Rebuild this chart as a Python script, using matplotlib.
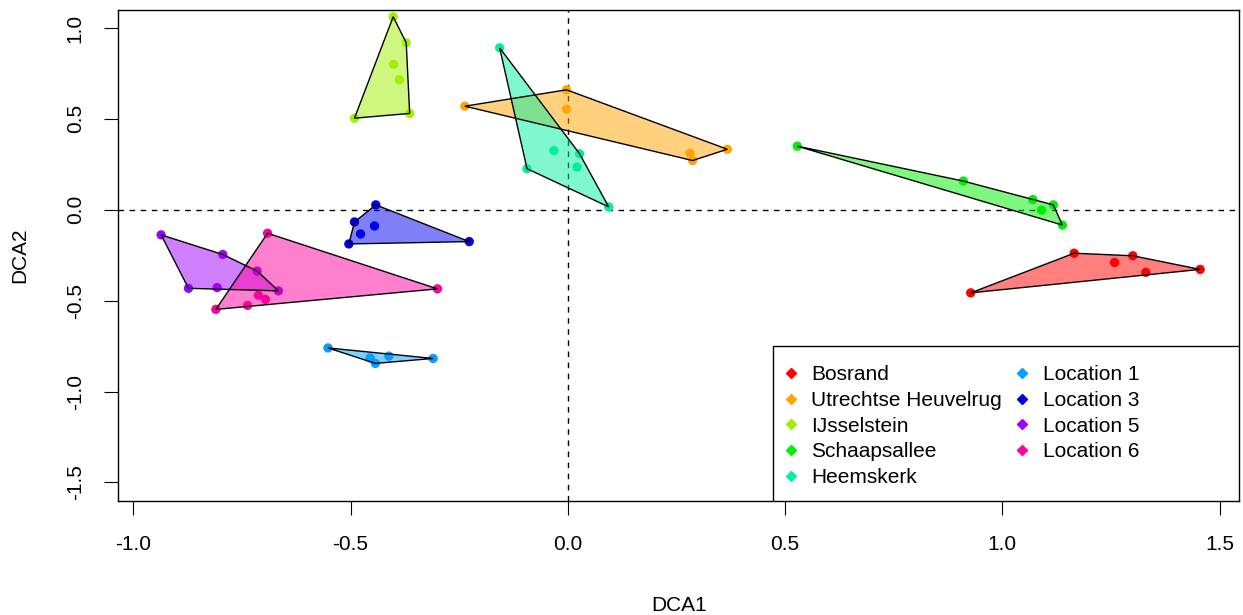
import matplotlib.pyplot as plt
from matplotlib.patches import Rectangle
import numpy as np

plt.rcParams['font.family'] = ['Liberation Sans', 'DejaVu Sans']

# site names and colours (legend order)
sites = ['Bosrand', 'Utrechtse Heuvelrug', 'IJsselstein', 'Schaapsallee', 'Heemskerk',
         'Location 1', 'Location 3', 'Location 5', 'Location 6']
colors = ['#FF0000', '#FFA500', '#A0F000', '#00EE00', '#00F0A0',
          '#00A0FF', '#0000F0', '#A000FF', '#FF00A0']

# DCA site scores
bosrand_x = [0.927, 1.165, 1.258, 1.300, 1.330, 1.455]
bosrand_y = [-0.457, -0.239, -0.290, -0.253, -0.344, -0.328]
utrecht_x = [-0.237, -0.003, -0.003, 0.281, 0.287, 0.367]
utrecht_y = [0.570, 0.660, 0.554, 0.311, 0.271, 0.333]
ijssel_x = [-0.402, -0.372, -0.401, -0.388, -0.364, -0.491]
ijssel_y = [1.062, 0.919, 0.800, 0.716, 0.530, 0.504]
schaap_x = [0.528, 0.910, 1.070, 1.117, 1.090, 1.138]
schaap_y = [0.350, 0.158, 0.056, 0.027, -0.002, -0.084]
heems_x = [-0.157, -0.032, 0.027, 0.021, -0.094, 0.094]
heems_y = [0.891, 0.326, 0.308, 0.235, 0.226, 0.016]
loc1_x = [-0.552, -0.455, -0.443, -0.412, -0.310]
loc1_y = [-0.760, -0.815, -0.845, -0.805, -0.818]
loc3_x = [-0.442, -0.491, -0.445, -0.477, -0.504, -0.227]
loc3_y = [0.027, -0.067, -0.089, -0.133, -0.188, -0.175]
loc5_x = [-0.936, -0.794, -0.715, -0.666, -0.807, -0.873]
loc5_y = [-0.138, -0.246, -0.337, -0.446, -0.428, -0.432]
loc6_x = [-0.691, -0.300, -0.810, -0.737, -0.712, -0.696]
loc6_y = [-0.129, -0.435, -0.548, -0.526, -0.470, -0.493]

xs = [bosrand_x, utrecht_x, ijssel_x, schaap_x, heems_x, loc1_x, loc3_x, loc5_x, loc6_x]
ys = [bosrand_y, utrecht_y, ijssel_y, schaap_y, heems_y, loc1_y, loc3_y, loc5_y, loc6_y]


def hull(px, py):
    # monotone chain convex hull
    pts = sorted(zip(px, py))

    def cross(o, a, b):
        return (a[0] - o[0]) * (b[1] - o[1]) - (a[1] - o[1]) * (b[0] - o[0])
    lower = []
    for p in pts:
        while len(lower) >= 2 and cross(lower[-2], lower[-1], p) <= 0:
            lower.pop()
        lower.append(p)
    upper = []
    for p in reversed(pts):
        while len(upper) >= 2 and cross(upper[-2], upper[-1], p) <= 0:
            upper.pop()
        upper.append(p)
    h = np.array(lower[:-1] + upper[:-1])
    return h[:, 0], h[:, 1]


fig = plt.figure(figsize=(12.43, 6.15), dpi=100)
ax = fig.add_axes([0.095, 0.186, 0.902, 0.798])

ax.axhline(0, color='black', ls=(0, (4, 4)), lw=1)
ax.axvline(0, color='black', ls=(0, (4, 4)), lw=1)

for px, py, c in zip(xs, ys, colors):
    ax.scatter(px, py, s=45, color=c, edgecolors='none', zorder=3)
for px, py, c in zip(xs, ys, colors):
    hx, hy = hull(px, py)
    ax.fill(hx, hy, facecolor=c, alpha=0.5, edgecolor='none', zorder=4)
    ax.fill(hx, hy, facecolor='none', edgecolor='black', lw=1, zorder=5)

# legend box runs to the plot edge like in R
ax.add_patch(Rectangle((0.584, 0), 0.416, 0.315, transform=ax.transAxes,
                       facecolor='white', edgecolor='black', lw=1, zorder=6))
handles = [plt.Line2D([], [], marker='D', ls='none', color=c, markersize=5) for c in colors]
leg = ax.legend(handles, sites, loc='upper left', bbox_to_anchor=(0.584, 0.303), ncol=2,
                fontsize=15, frameon=False, borderaxespad=0, borderpad=0.65,
                labelspacing=0.32, handlelength=0.45, handletextpad=0.75, columnspacing=0.75)
leg.set_zorder(7)

ax.set_xlim(-1.035, 1.545)
ax.set_ylim(-1.6, 1.1)
ax.set_xticks([-1.0, -0.5, 0.0, 0.5, 1.0, 1.5])
ax.set_yticks([-1.5, -1.0, -0.5, 0.0, 0.5, 1.0])
ax.set_xticklabels(['-1.0', '-0.5', '0.0', '0.5', '1.0', '1.5'])
ax.set_yticklabels(['-1.5', '-1.0', '-0.5', '0.0', '0.5', '1.0'], rotation=90, va='center')
ax.tick_params(labelsize=15, length=10, colors='black')
ax.tick_params(axis='x', pad=15)
ax.tick_params(axis='y', pad=14)
ax.set_xlabel('DCA1', fontsize=15, labelpad=30)
ax.set_ylabel('DCA2', fontsize=15, labelpad=26)
for s in ax.spines.values():
    s.set_linewidth(1)

plt.savefig('out.png', dpi=100)
